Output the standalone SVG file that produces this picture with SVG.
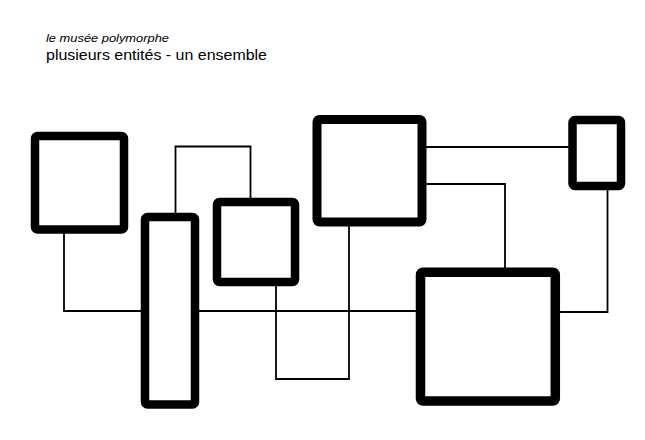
<svg xmlns="http://www.w3.org/2000/svg" width="645" height="440" viewBox="0 0 645 440">
<style>
.box{fill:#fff;stroke:#000;stroke-width:8.5}
.ln{fill:none;stroke:#000;stroke-width:1.8}
.t{font-family:"Liberation Sans",Arial,sans-serif;fill:#000}
</style>
<rect width="645" height="440" fill="#fff"/>
<text class="t" x="46" y="42" font-size="11" font-style="italic" textLength="123" lengthAdjust="spacingAndGlyphs">le musée polymorphe</text>
<text class="t" x="46" y="59.5" font-size="14" textLength="221" lengthAdjust="spacingAndGlyphs">plusieurs entités - un ensemble</text>
<g id="connectors">
<polyline class="ln" points="64,229 64,311 145,311"/>
<line class="ln" x1="195" y1="311" x2="420" y2="311"/>
<polyline class="ln" points="175.5,217 175.5,146.5 250.5,146.5 250.5,202"/>
<polyline class="ln" points="276,282 276,379 349,379 349,222"/>
<line class="ln" x1="422" y1="147" x2="572" y2="147"/>
<polyline class="ln" points="422,184 505,184 505,272"/>
<polyline class="ln" points="607.5,186 607.5,312 555,312"/>
</g>
<g id="nodeA"><rect class="box" x="35" y="136" width="89" height="93.5" rx="2.5"/></g>
<g id="nodeB"><rect class="box" x="145" y="217" width="50" height="187.5" rx="2.5"/></g>
<g id="nodeC"><rect class="box" x="217" y="202" width="78" height="80" rx="2.5"/></g>
<g id="nodeD"><rect class="box" x="317" y="119.5" width="105" height="102.5" rx="2.5" style="stroke-width:9"/></g>
<g id="nodeE"><rect class="box" x="420.5" y="272.2" width="134.8" height="128.8" rx="2.5" style="stroke-width:9.5"/></g>
<g id="nodeF"><rect class="box" x="572.5" y="120" width="48.5" height="66" rx="2.5"/></g>
</svg>
